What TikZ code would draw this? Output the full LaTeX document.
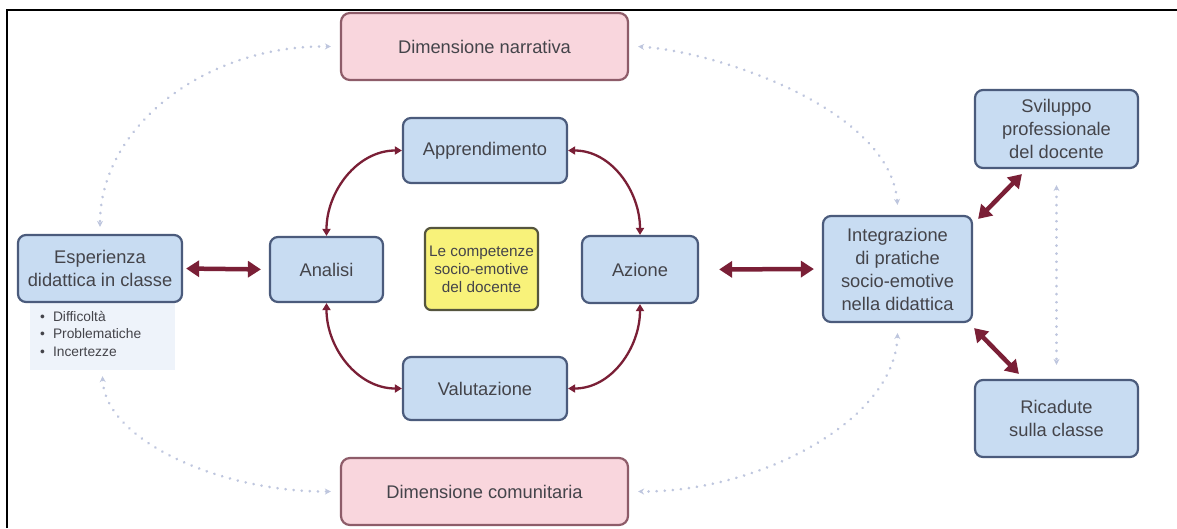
\documentclass[tikz,border=0pt]{standalone}
\usepackage{fontspec}
\setmainfont{Liberation Sans}
\usetikzlibrary{arrows.meta}
\definecolor{boxfill}{HTML}{C8DCF2}
\definecolor{boxline}{HTML}{4B5B7C}
\definecolor{pinkfill}{HTML}{F9D6DD}
\definecolor{pinkline}{HTML}{8E5C69}
\definecolor{yelfill}{HTML}{F8F27A}
\definecolor{yelline}{HTML}{55553E}
\definecolor{arr}{HTML}{7A1F36}
\definecolor{dotc}{HTML}{BEC6DE}
\definecolor{txt}{HTML}{44444A}
\definecolor{bulfill}{HTML}{EEF3FA}
\newcommand\bigtxt{\fontsize{18.3}{23}\selectfont}
\newcommand\midtxt{\fontsize{15.3}{18}\selectfont}
\newcommand\smalltxt{\fontsize{13.8}{17.5}\selectfont}
\begin{document}
\begin{tikzpicture}[x=1pt,y=-1pt,
  bluebox/.style={draw=boxline, fill=boxfill, rounded corners=8pt, line width=2.2pt,
    text=txt, align=center, font=\bigtxt, inner sep=0pt},
  pinkbox/.style={draw=pinkline, fill=pinkfill, rounded corners=9pt, line width=2.2pt,
    text=txt, align=center, font=\bigtxt, inner sep=0pt,
    minimum width=287pt, minimum height=67pt},
  yelbox/.style={draw=yelline, fill=yelfill, rounded corners=6pt, line width=2.2pt,
    text=txt, align=center, font=\midtxt, inner sep=0pt},
  thickarrow/.style={draw=arr, line width=4.5pt,
    {Triangle[length=13pt,width=16pt]}-{Triangle[length=13pt,width=16pt]}},
  curvarrow/.style={draw=arr, line width=2.3pt,
    {Triangle[length=7pt,width=8pt]}-{Triangle[length=7pt,width=8pt]}},
  dotline/.style={draw=dotc, line width=2.8pt, line cap=round, dash pattern=on 0.1pt off 8pt,
    {Stealth[length=6pt,width=6pt]}-{Stealth[length=6pt,width=6pt]}}
]
\useasboundingbox (0,0) rectangle (1177,528);
\fill[white] (0,0) rectangle (1177,528);
% frame
\draw[line width=2.5pt, black] (7,528) -- (7,10) -- (1177,10);

% nodes
\node[pinkbox] (narr) at (484.5,46.5) {Dimensione narrativa};
\node[pinkbox] (comm) at (484.5,491.5) {Dimensione comunitaria};

\node[fill=bulfill, minimum width=145pt, minimum height=68pt, inner sep=0pt] (bul) at (102.5,336) {};
\node[text=txt, font=\smalltxt, align=left, anchor=north west, inner sep=0pt] (bultxt) at (40,311)
  {\textbullet\hspace{8pt}Difficoltà\\ \textbullet\hspace{8pt}Problematiche\\ \textbullet\hspace{8pt}Incertezze};

\node[bluebox, minimum width=164pt, minimum height=67pt] (esp) at (100,268.5) {Esperienza\\didattica in classe};
\node[bluebox, minimum width=113pt, minimum height=65pt] (anal) at (326.5,269.5) {Analisi};
\node[bluebox, minimum width=164pt, minimum height=65pt] (appr) at (485,150.5) {Apprendimento};
\node[bluebox, minimum width=164pt, minimum height=63pt] (valu) at (485,388.5) {Valutazione};
\node[yelbox, minimum width=113pt, minimum height=82pt] (yel) at (481.5,269) {Le competenze\\socio-emotive\\del docente};
\node[bluebox, minimum width=116pt, minimum height=67pt] (azio) at (640,269.5) {Azione};
\node[bluebox, minimum width=149pt, minimum height=106pt] (integ) at (897.5,269) {Integrazione\\di pratiche\\socio-emotive\\nella didattica};
\node[bluebox, minimum width=163pt, minimum height=78pt] (svil) at (1056.5,129) {Sviluppo\\professionale\\del docente};
\node[bluebox, minimum width=163pt, minimum height=77pt] (rica) at (1056.5,418.5) {Ricadute\\sulla classe};

% dotted connections
\draw[dotline] ([xshift=-9pt]narr.west) .. controls (205,45) and (100,127) .. ([yshift=7pt]esp.north);
\draw[dotline] ([xshift=9pt]narr.east) .. controls (720,52) and (890,110) .. ([yshift=10pt]integ.north);
\draw[dotline] ([yshift=-10pt]integ.south) .. controls (895,420) and (760,492) .. ([xshift=9pt]comm.east);
\draw[dotline] ([yshift=-6pt]bul.south) .. controls (105,440) and (220,492) .. ([xshift=-9pt]comm.west);
\draw[dotline] ([yshift=-16pt]svil.south) -- ([yshift=14pt]rica.north);

% thick arrows
\draw[thickarrow, shorten <=3pt, shorten >=8pt] (esp.east) -- (anal.west);
\draw[thickarrow, shorten <=20pt, shorten >=8pt] (azio.east) -- (integ.west);
\draw[thickarrow] ([xshift=5pt,yshift=-4pt]integ.north east) -- ([xshift=48pt,yshift=-5pt]svil.south west);
\draw[thickarrow] ([xshift=1pt,yshift=-5pt]integ.south east) -- ([xshift=45pt,yshift=5pt]rica.north west);

% curved arrows
\draw[curvarrow] (anal.north) to[out=90,in=180] (appr.west);
\draw[curvarrow] (appr.east) to[out=0,in=90] (azio.north);
\draw[curvarrow] (azio.south) to[out=-90,in=0] (valu.east);
\draw[curvarrow] (anal.south) to[out=-90,in=180] (valu.west);
\end{tikzpicture}
\end{document}
